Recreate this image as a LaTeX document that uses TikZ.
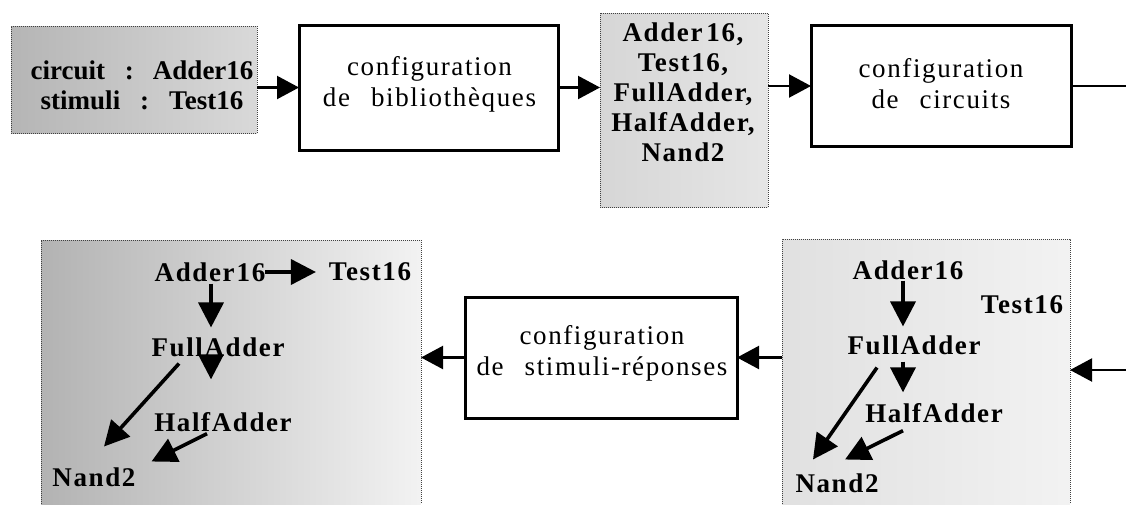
\documentclass[tikz,border=0pt]{standalone}
\usepackage{fontspec}
\setmainfont{Liberation Serif}
\newfontfamily\spfont{Liberation Serif}[LetterSpace=6]
\usetikzlibrary{arrows.meta,calc}
\begin{document}
\begin{tikzpicture}[x=1pt,y=-1pt,
  every node/.style={inner sep=0pt,outer sep=0pt},
  cfgbox/.style={draw=black,line width=3pt,fill=white},
  dotbox/.style={draw=black!75,densely dotted,line width=1pt},
  dotside/.style={draw=black!75,densely dotted,line width=1pt},
  cfgtext/.style={font=\spfont\fontsize{27}{31}\selectfont,align=center},
  libtext/.style={font=\spfont\bfseries\fontsize{27}{30}\selectfont,align=center},
  intext/.style={font=\bfseries\fontsize{27}{30}\selectfont,align=center},
  gtext/.style={font=\spfont\bfseries\fontsize{27}{31}\selectfont},
  flow/.style={line width=2.2pt,-{Triangle[length=22pt,width=23pt]}},
  gar/.style={line width=3.6pt,-{Triangle[length=25pt,width=25pt]}}]
\useasboundingbox (0,0) rectangle (1126,504);

% ---------- top row ----------
\node[dotbox,left color=black!29,right color=black!15,minimum width=246,minimum height=107] (b1) at (134,79.5) {};
\node[intext] (b1t) at (142,85) {circuit\hspace{20pt}:\hspace{19pt}Adder16\\stimuli\hspace{20pt}:\hspace{20pt}Test16};

\node[cfgbox,minimum width=259,minimum height=125] (b2) at (428.5,87.5) {};
\node[cfgtext] (b2t) at (429.5,84) {configuration\\de\hspace{21pt}bibliothèques};

\node[dotbox,left color=black!16,right color=black!10,minimum width=168,minimum height=194] (b3) at (684,110) {};
\node[libtext] (b3t) at (683,92.5) {Adder\kern4pt16,\\Test16,\\FullAdder,\\HalfAdder,\\Nand2};

\node[cfgbox,minimum width=260,minimum height=121] (b4) at (941,86) {};
\node[cfgtext] (b4t) at (941,84) {configuration\\de\hspace{21pt}circuits};

\coordinate (cout) at (1126,86);
\coordinate (cin) at (1126,370);

\draw[flow] (b1.east |- b2.west) -- (b2.west);
\draw[flow] (b2.east) -- (b2.east -| b3.west);
\draw[flow] (b3.east |- b4.west) -- (b4.west);
\draw[line width=2.2pt] (b4.east) -- (cout);

% ---------- bottom row ----------
\node[left color=black!30,right color=black!5,minimum width=380,minimum height=264] (b6) at (231,372) {};
\draw[dotside] (b6.south west) -- (b6.north west) -- (b6.north east) -- (b6.south east);

\node[left color=black!12,right color=black!5,minimum width=288,minimum height=265] (b7) at (926,371.5) {};
\draw[dotside] (b7.south west) -- (b7.north west) -- (b7.north east) -- (b7.south east);

\node[cfgbox,minimum width=272,minimum height=121] (b5) at (601,357.5) {};
\node[cfgtext] (b5t) at (602,353.5) {configuration\\de\hspace{21pt}stimuli-réponses};

\draw[flow] (cin) -- (cin -| b7.east);
\draw[flow] (b7.west |- b5.east) -- (b5.east);
\draw[flow] (b5.west) -- (b5.west -| b6.east);

% ---------- left graph ----------
\node[gtext] (lad) at (210,272) {Adder\kern2pt16};
\node[gtext] (lte) at (370,272) {Test16};
\node[gtext] (lfa) at (218,347) {FullAdder};
\node[gtext] (lha) at (223,422) {HalfAdder};
\node[gtext] (lna) at (94,477) {Nand2};

\draw[gar] (lad.east) -- ($(lte.west)+(-13,0)$);
\draw[gar] ($(lad.south)+(1,2)$) -- ($(lfa.north)+(-7,-10)$);
\draw[gar] ($(lfa.south)+(-7,1)$) -- ($(lha.north)+(-12,-33)$);
\draw[gar] ($(lfa.south)+(-39,7)$) -- ($(lna.north)+(10,-21)$);
\draw[gar] ($(lha.south)+(-16,2)$) -- ($(lna.north east)+(16,-6)$);

% ---------- right graph ----------
\node[gtext] (rad) at (908,270) {Adder\kern2pt16};
\node[gtext] (rte) at (1022,305) {Test16};
\node[gtext] (rfa) at (914,345) {FullAdder};
\node[gtext] (rha) at (934,413) {HalfAdder};
\node[gtext] (rna) at (837,483) {Nand2};

\draw[gar] ($(rad.south)+(-5,1)$) -- ($(rfa.north)+(-11,-9)$);
\draw[gar] ($(rfa.south)+(-11,7)$) -- ($(rha.north)+(-31,-11)$);
\draw[gar] ($(rfa.south)+(-37,13)$) -- ($(rna.north)+(-24,-14)$);
\draw[gar] ($(rha.south)+(-31,8)$) -- ($(rna.north)+(8,-14)$);
\end{tikzpicture}
\end{document}
